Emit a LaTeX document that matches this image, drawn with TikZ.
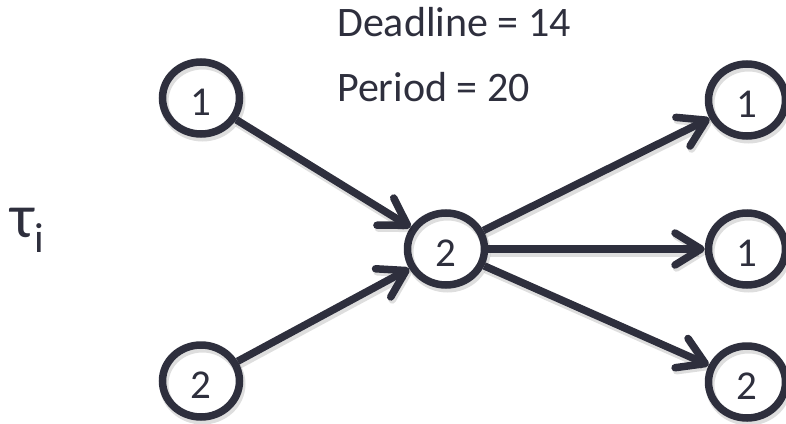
\documentclass[tikz,border=0pt]{standalone}
\usepackage{fontspec}
\setmainfont{Carlito}
\usetikzlibrary{arrows.meta,shapes.geometric}
\definecolor{ink}{HTML}{2E2F3D}
\begin{document}
\begin{tikzpicture}[x=1pt,y=-1pt,
  shade/.style={preaction={draw=black,draw opacity=0.13,line width=9pt,transform canvas={xshift=1.5pt,yshift=-3pt}}},
  task/.style={ellipse,draw=ink,line width=7.5pt,shade,minimum width=77pt,minimum height=72pt,inner sep=0pt,text=ink,font=\fontsize{41}{43}\selectfont},
  conn/.style={draw=ink,line width=7.5pt,shade,-{Straight Barb[length=26pt,width=32pt,line width=7.5pt,round]}},
  lbl/.style={text=ink,font=\fontsize{42}{44}\selectfont,inner sep=0pt,anchor=base west}]
\newcommand{\dg}[1]{\raisebox{-4pt}[26pt][0pt]{#1}}
\useasboundingbox (0,0) rectangle (786,423);
\node[task] (a1) at (201,98) {\dg{1}};
\node[task] (a2) at (201,381) {\dg{2}};
\node[task] (c) at (446,249) {\dg{2}};
\node[task] (r1) at (747,100) {\dg{1}};
\node[task] (r2) at (747,249) {\dg{1}};
\node[task] (r3) at (747,382) {\dg{2}};
\draw[conn] (a1) -- (c);
\draw[conn] (a2) -- (c);
\draw[conn] (c) -- (r1);
\draw[conn] (c) -- (r2);
\draw[conn] (c) -- (r3);
\node[lbl] (dl) at (337,36) {Deadline = 14};
\node[lbl] (pd) at (337,101) {Period = 20};
\node[text=ink,inner sep=0pt,anchor=base west] (tau) at (10,237) {\fontsize{62}{64}\selectfont τ\raisebox{-15pt}{\fontsize{42}{44}\selectfont i}};
\end{tikzpicture}
\end{document}
